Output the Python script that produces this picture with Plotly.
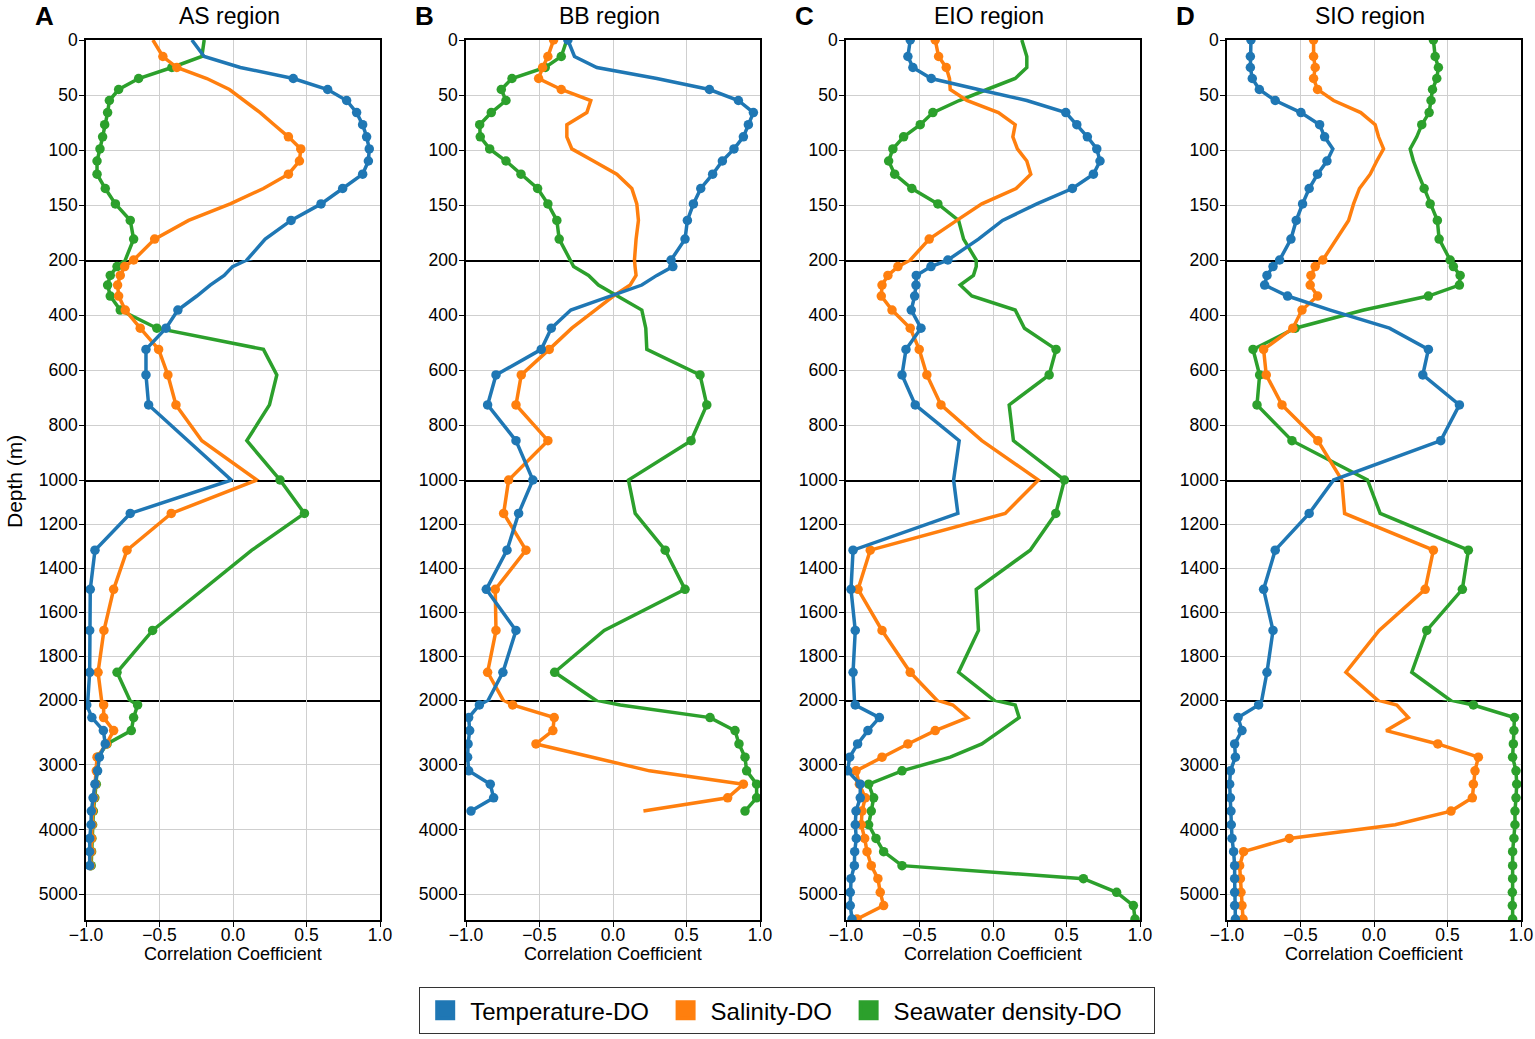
import plotly.graph_objects as go

# depth levels shared by all profiles (m)
DEPTH = [0, 15, 25, 35, 45, 55, 66, 77, 88, 99, 110, 122, 135, 149, 164, 181,
         200, 224, 256, 291, 331, 382, 448, 525, 618, 727, 857,
         1000, 1152, 1319, 1497, 1684, 1874,
         2077, 2272, 2473, 2679, 2884, 3095, 3301, 3512, 3717, 3928, 4139, 4344,
         4560, 4761, 4972, 5177, 5385]

# piecewise depth axis: each piece gets the same height
SEG_BREAKS = [0, 200, 1000, 2000, 5400]
Y_TICKS = [[0, 50, 100, 150, 200], [400, 600, 800, 1000],
           [1200, 1400, 1600, 1800, 2000], [3000, 4000, 5000]]
X_TICKS = [-1.0, -0.5, 0.0, 0.5, 1.0]
X_TICK_TEXT = ["\u22121.0", "\u22120.5", "0.0", "0.5", "1.0"]

REGIONS = ["AS region", "BB region", "EIO region", "SIO region"]
LETTERS = ["A", "B", "C", "D"]
SERIES = ["Temperature-DO", "Salinity-DO", "Seawater density-DO"]
COLORS = ["#1f77b4", "#ff7f0e", "#2ca02c"]

# correlation coefficients, *_SIG = 1 where a dot is drawn
AS_T = [-0.28, -0.196, 0.05, 0.41, 0.644, 0.773, 0.841, 0.882, 0.909, 0.927, 0.921, 0.882, 0.746, 0.599, 0.395, 0.219,
        0.094, -0.003, -0.06, -0.155, -0.246, -0.375, -0.456, -0.592, -0.592, -0.574, -0.31,
        -0.012, -0.699, -0.939, -0.971, -0.975, -0.975,
        -0.995, -0.96, -0.882, -0.869, -0.909, -0.921, -0.939, -0.952, -0.964, -0.966, -0.975, -0.975, -0.975]
AS_T_SIG = [0, 0, 0, 1, 1, 1, 1, 1, 1, 1, 1, 1, 1, 1, 1, 0,
            0, 0, 0, 0, 0, 1, 1, 1, 1, 1, 0,
            0, 1, 1, 1, 1, 1,
            1, 1, 1, 1, 1, 1, 1, 1, 1, 1, 1, 1, 1]
AS_S = [-0.545, -0.477, -0.382, -0.178, -0.024, 0.078, 0.185, 0.28, 0.377, 0.461, 0.452, 0.377, 0.207, -0.019, -0.302, -0.533,
        -0.676, -0.737, -0.767, -0.785, -0.778, -0.733, -0.631, -0.506, -0.443, -0.388, -0.212,
        0.162, -0.42, -0.721, -0.812, -0.878, -0.918,
        -0.88, -0.88, -0.812, -0.86, -0.925, -0.93, -0.935, -0.945, -0.955, -0.958, -0.962, -0.965, -0.97]
AS_S_SIG = [0, 1, 1, 0, 0, 0, 0, 0, 1, 1, 1, 1, 0, 0, 0, 1,
            1, 1, 1, 1, 1, 1, 1, 1, 1, 1, 0,
            0, 1, 1, 1, 1, 1,
            1, 1, 1, 1, 1, 1, 1, 1, 1, 1, 1, 1, 1]
AS_D = [-0.196, -0.212, -0.416, -0.642, -0.778, -0.841, -0.853, -0.873, -0.887, -0.905, -0.925, -0.925, -0.869, -0.8, -0.699, -0.676,
        -0.733, -0.789, -0.835, -0.853, -0.835, -0.767, -0.518, 0.207, 0.298, 0.248, 0.094,
        0.32, 0.486, 0.128, -0.2, -0.547, -0.789,
        -0.649, -0.676, -0.692, -0.857, -0.92, -0.925, -0.93, -0.94, -0.95, -0.955, -0.96, -0.962, -0.965]
AS_D_SIG = [0, 0, 1, 1, 1, 1, 1, 1, 1, 1, 1, 1, 1, 1, 1, 1,
            0, 1, 1, 1, 1, 1, 1, 0, 0, 0, 0,
            1, 1, 0, 0, 1, 1,
            1, 1, 1, 1, 1, 1, 1, 1, 1, 1, 1, 1, 1]

BB_T = [-0.307, -0.262, -0.11, 0.298, 0.656, 0.853, 0.955, 0.921, 0.887, 0.823, 0.744, 0.678, 0.597, 0.547, 0.506, 0.49,
        0.395, 0.407, 0.298, 0.196, -0.017, -0.287, -0.42, -0.488, -0.796, -0.853, -0.66,
        -0.545, -0.642, -0.721, -0.862, -0.66, -0.749,
        -0.909, -0.982, -0.975, -0.986, -0.989, -0.982, -0.835, -0.812, -0.966]
BB_T_SIG = [1, 0, 0, 0, 1, 1, 1, 1, 1, 1, 1, 1, 1, 1, 1, 1,
            1, 1, 0, 0, 0, 0, 1, 1, 1, 1, 1,
            1, 1, 1, 1, 1, 1,
            1, 1, 1, 1, 1, 1, 1, 1, 1]
BB_S = [-0.404, -0.443, -0.479, -0.506, -0.352, -0.151, -0.178, -0.314, -0.314, -0.28, -0.133, 0.026, 0.128, 0.162, 0.173, 0.157,
        0.146, 0.15, 0.157, 0.117, 0.003, -0.121, -0.28, -0.434, -0.624, -0.66, -0.443,
        -0.71, -0.744, -0.592, -0.801, -0.796, -0.853,
        -0.683, -0.4, -0.409, -0.524, -0.14, 0.248, 0.887, 0.78, 0.207]
BB_S_SIG = [1, 1, 1, 1, 1, 0, 0, 0, 0, 0, 0, 0, 0, 0, 0, 0,
            0, 0, 0, 0, 0, 0, 0, 1, 1, 1, 1,
            1, 1, 1, 1, 1, 1,
            1, 1, 1, 1, 0, 0, 1, 1, 0]
BB_D = [-0.314, -0.352, -0.461, -0.687, -0.76, -0.728, -0.828, -0.907, -0.903, -0.839, -0.728, -0.626, -0.513, -0.443, -0.382, -0.366,
        -0.291, -0.268, -0.166, -0.099, 0.026, 0.196, 0.223, 0.23, 0.592, 0.638, 0.531,
        0.105, 0.151, 0.355, 0.49, -0.06, -0.397,
        0.05, 0.66, 0.83, 0.857, 0.898, 0.909, 0.977, 0.977, 0.898]
BB_D_SIG = [0, 1, 1, 1, 1, 1, 1, 1, 1, 1, 1, 1, 1, 1, 1, 1,
            0, 0, 0, 0, 0, 0, 0, 0, 1, 1, 1,
            0, 0, 1, 1, 0, 1,
            0, 1, 1, 1, 1, 1, 1, 1, 1]

EIO_T = [-0.563, -0.579, -0.545, -0.42, -0.099, 0.23, 0.495, 0.57, 0.642, 0.706, 0.728, 0.683, 0.54, 0.298, 0.065, -0.099,
         -0.307, -0.422, -0.522, -0.524, -0.533, -0.556, -0.49, -0.592, -0.619, -0.529, -0.23,
         -0.268, -0.239, -0.952, -0.966, -0.937, -0.952,
         -0.937, -0.773, -0.851, -0.921, -0.975, -0.989, -0.903, -0.903, -0.932, -0.937, -0.93, -0.941,
         -0.943, -0.966, -0.971, -0.971, -0.959]
EIO_T_SIG = [1, 1, 1, 1, 0, 0, 1, 1, 1, 1, 1, 1, 1, 0, 0, 0,
             1, 1, 1, 1, 1, 1, 1, 1, 1, 1, 0,
             0, 0, 1, 1, 1, 1,
             1, 1, 1, 1, 1, 1, 1, 1, 1, 1, 1, 1,
             1, 1, 1, 1, 1]
EIO_S = [-0.393, -0.37, -0.318, -0.296, -0.291, -0.178, 0.037, 0.151, 0.135, 0.166, 0.23, 0.257, 0.157, -0.076, -0.246, -0.434,
         -0.563, -0.647, -0.715, -0.755, -0.76, -0.687, -0.563, -0.502, -0.45, -0.354, -0.076,
         0.309, 0.083, -0.835, -0.918, -0.755, -0.563,
         -0.273, -0.173, -0.393, -0.579, -0.755, -0.932, -0.909, -0.869, -0.891, -0.896, -0.873, -0.857,
         -0.828, -0.783, -0.767, -0.744, -0.925]
EIO_S_SIG = [1, 1, 1, 0, 0, 0, 0, 0, 0, 0, 0, 0, 0, 0, 0, 1,
             0, 1, 1, 1, 1, 1, 1, 1, 1, 1, 0,
             0, 0, 1, 1, 1, 1,
             0, 0, 1, 1, 1, 1, 1, 1, 1, 1, 1, 1,
             1, 1, 1, 1, 1]
EIO_D = [0.196, 0.23, 0.23, 0.151, -0.042, -0.23, -0.409, -0.495, -0.608, -0.681, -0.71, -0.669, -0.552, -0.375, -0.234, -0.2,
         -0.114, -0.114, -0.133, -0.223, -0.144, 0.151, 0.214, 0.429, 0.382, 0.11, 0.139,
         0.486, 0.427, 0.253, -0.114, -0.099, -0.234,
         0.151, 0.178, 0.053, -0.076, -0.291, -0.619, -0.846, -0.812, -0.828, -0.846, -0.796, -0.744,
         -0.619, 0.615, 0.841, 0.955, 0.966]
EIO_D_SIG = [0, 0, 0, 0, 0, 0, 1, 1, 1, 1, 1, 1, 1, 1, 0, 0,
             0, 0, 0, 0, 0, 0, 0, 1, 1, 0, 0,
             1, 1, 0, 0, 0, 0,
             0, 0, 0, 0, 0, 1, 1, 1, 1, 1, 1, 1,
             1, 1, 1, 1, 1]

SIO_T = [-0.837, -0.841, -0.841, -0.828, -0.78, -0.672, -0.497, -0.37, -0.336, -0.28, -0.32, -0.384, -0.441, -0.486, -0.529, -0.565,
         -0.642, -0.687, -0.728, -0.744, -0.588, -0.298, 0.105, 0.37, 0.332, 0.581, 0.454,
         -0.275, -0.441, -0.672, -0.751, -0.687, -0.728,
         -0.785, -0.925, -0.898, -0.948, -0.943, -0.977, -0.982, -0.977, -0.973, -0.971, -0.966, -0.955,
         -0.948, -0.948, -0.948, -0.948, -0.943]
SIO_T_SIG = [1, 1, 1, 1, 1, 1, 1, 1, 1, 0, 1, 1, 1, 1, 1, 1,
             1, 1, 1, 1, 1, 0, 0, 1, 1, 1, 1,
             0, 1, 1, 1, 1, 1,
             1, 1, 1, 1, 1, 1, 1, 1, 1, 1, 1, 1,
             1, 1, 1, 1, 1]
SIO_S = [-0.411, -0.411, -0.4, -0.411, -0.384, -0.275, -0.09, 0.008, 0.031, 0.065, 0.019, -0.026, -0.099, -0.139, -0.173, -0.253,
         -0.348, -0.4, -0.429, -0.434, -0.384, -0.49, -0.552, -0.751, -0.733, -0.626, -0.382,
         -0.219, -0.2, 0.404, 0.348, 0.035, -0.191,
         0.155, 0.234, 0.083, 0.434, 0.71, 0.687, 0.676, 0.669, 0.524, 0.144, -0.576, -0.887,
         -0.914, -0.909, -0.905, -0.898, -0.891]
SIO_S_SIG = [1, 1, 1, 1, 1, 0, 0, 0, 0, 0, 0, 0, 0, 0, 0, 0,
             1, 1, 1, 1, 1, 1, 1, 1, 1, 1, 1,
             0, 0, 1, 1, 0, 0,
             0, 0, 0, 1, 1, 1, 1, 1, 1, 0, 1, 1,
             1, 1, 1, 1, 1]
SIO_D = [0.404, 0.416, 0.438, 0.427, 0.398, 0.388, 0.375, 0.325, 0.291, 0.246, 0.268, 0.302, 0.341, 0.382, 0.431, 0.443,
         0.518, 0.54, 0.586, 0.581, 0.37, -0.07, -0.536, -0.823, -0.778, -0.796, -0.558,
         -0.044, 0.042, 0.642, 0.601, 0.359, 0.257,
         0.676, 0.955, 0.952, 0.948, 0.943, 0.966, 0.971, 0.966, 0.959, 0.959, 0.952, 0.943,
         0.943, 0.943, 0.941, 0.941, 0.943]
SIO_D_SIG = [1, 1, 1, 1, 1, 1, 1, 1, 0, 0, 0, 0, 1, 1, 1, 1,
             1, 1, 1, 1, 1, 0, 1, 1, 1, 1, 1,
             0, 0, 1, 1, 1, 0,
             1, 1, 1, 1, 1, 1, 1, 1, 1, 1, 1, 1,
             1, 1, 1, 1, 1]

panels = [
    [(AS_T, AS_T_SIG), (AS_S, AS_S_SIG), (AS_D, AS_D_SIG)],
    [(BB_T, BB_T_SIG), (BB_S, BB_S_SIG), (BB_D, BB_D_SIG)],
    [(EIO_T, EIO_T_SIG), (EIO_S, EIO_S_SIG), (EIO_D, EIO_D_SIG)],
    [(SIO_T, SIO_T_SIG), (SIO_S, SIO_S_SIG), (SIO_D, SIO_D_SIG)],
]

W, H = 1535, 1039
FONT = "Liberation Sans, Arial, sans-serif"
col_px = [(86, 380), (466, 760), (846, 1140), (1227, 1521)]
row_px = [40, 260, 480, 700, 920]


def px_x(v):
    return v / W


def px_y(v):
    return 1 - v / H


fig = go.Figure()
layout = {}
for p in range(4):
    for s in range(4):
        k = p * 4 + s + 1
        xa = "x" if k == 1 else "x%d" % k
        ya = "y" if k == 1 else "y%d" % k
        # density first so temperature ends up on top
        for i in [2, 1, 0]:
            vals, sig = panels[p][i]
            fig.add_trace(go.Scatter(
                x=vals, y=DEPTH[:len(vals)], mode="lines+markers",
                line=dict(color=COLORS[i], width=3.5),
                marker=dict(color=COLORS[i], size=[9.5 if f else 0 for f in sig],
                            opacity=1, line=dict(width=0)),
                xaxis=xa, yaxis=ya, showlegend=False, hoverinfo="skip"))
        bottom = s == 3
        # only the top piece mirrors its line, so each break is drawn once
        layout["xaxis%d" % k] = dict(
            domain=[px_x(col_px[p][0]), px_x(col_px[p][1])], anchor=ya,
            range=[-1, 1], tickvals=X_TICKS, ticktext=X_TICK_TEXT,
            showticklabels=bottom, ticks="outside" if bottom else "",
            ticklen=5, tickwidth=1, tickcolor="black", ticklabelstandoff=-7,
            tickfont=dict(size=17.5, color="black", family=FONT),
            showline=True, mirror=(s == 0), linecolor="black", linewidth=1.5,
            showgrid=True, gridcolor="#cfcfcf", gridwidth=1, zeroline=False,
            automargin=False, fixedrange=True)
        layout["yaxis%d" % k] = dict(
            domain=[px_y(row_px[s + 1]), px_y(row_px[s])], anchor=xa,
            range=[SEG_BREAKS[s + 1], SEG_BREAKS[s]],
            tickvals=Y_TICKS[s], ticktext=[str(v) for v in Y_TICKS[s]],
            ticks="outside", ticklen=5, tickwidth=1, tickcolor="black", ticklabelstandoff=-2,
            tickfont=dict(size=17.5, color="black", family=FONT),
            showline=True, mirror=True, linecolor="black", linewidth=1.5,
            showgrid=True, gridcolor="#cfcfcf", gridwidth=1, zeroline=False,
            automargin=False, fixedrange=True)

# legend entries shown as coloured squares
pads = ["\u00a0", "\u00a0", "\u00a0\u00a0\u00a0\u00a0"]
for i in range(3):
    fig.add_trace(go.Scatter(
        x=[None], y=[None], mode="markers", name=SERIES[i] + pads[i],
        marker=dict(color=COLORS[i], size=16, symbol="square",
                    line=dict(color=COLORS[i], width=4)),
        xaxis="x", yaxis="y", showlegend=True))

annotations = []
for p in range(4):
    cx = (col_px[p][0] + col_px[p][1]) / 2
    annotations.append(dict(
        x=px_x(cx - 4), y=px_y(16), xref="paper", yref="paper",
        text=REGIONS[p], showarrow=False, xanchor="center", yanchor="middle",
        font=dict(size=23, color="black", family=FONT)))
    annotations.append(dict(
        x=px_x(col_px[p][0] - 42), y=px_y(16), xref="paper", yref="paper",
        text="<b>%s</b>" % LETTERS[p], showarrow=False, xanchor="center", yanchor="middle",
        font=dict(size=26, color="black", family=FONT)))
    annotations.append(dict(
        x=px_x(cx), y=px_y(954), xref="paper", yref="paper",
        text="Correlation Coefficient", showarrow=False, xanchor="center", yanchor="middle",
        font=dict(size=18, color="black", family=FONT)))
annotations.append(dict(
    x=px_x(14), y=px_y(482), xref="paper", yref="paper", text="Depth (m)",
    showarrow=False, textangle=-90, xanchor="center", yanchor="middle",
    font=dict(size=21, color="black", family=FONT)))

fig.update_layout(
    width=W, height=H,
    margin=dict(l=0, r=0, t=0, b=0),
    paper_bgcolor="white", plot_bgcolor="white",
    font=dict(family=FONT, color="black"),
    annotations=annotations,
    legend=dict(
        orientation="h", x=px_x(787), y=px_y(987), xanchor="center", yanchor="top",
        bordercolor="#333333", borderwidth=1.2, bgcolor="white",
        font=dict(size=24, color="black", family=FONT), itemwidth=40),
    **layout,
)

fig.write_html("out.html", config={"displayModeBar": False},
               post_script="document.body.style.margin='0px';")
